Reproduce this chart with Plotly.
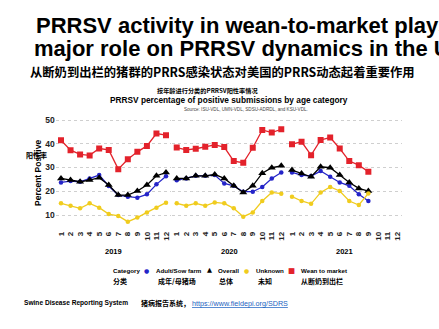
import plotly.graph_objects as go

W, H = 439, 329

months = [str(m) for m in range(1, 13)]
years = ["2019", "2020", "2021"]

adult = {
    "2019": [23.7, 24.3, 24.0, 25.4, 26.8, 22.2, 18.4, 17.7, 17.3, 18.7, 22.9, 26.3],
    "2020": [24.6, 25.4, 26.5, 26.5, 26.8, 23.3, 22.3, 19.8, 19.8, 21.8, 25.4, 27.9],
    "2021": [27.9, 26.8, 26.4, 28.5, 26.1, 23.7, 22.3, 18.7, 15.9],
}
overall = {
    "2019": [25.4, 24.7, 24.0, 24.7, 25.7, 22.6, 18.4, 18.4, 20.1, 22.6, 26.5, 27.9],
    "2020": [25.4, 25.4, 26.5, 26.5, 27.1, 25.4, 22.3, 19.5, 22.3, 27.6, 29.9, 30.7],
    "2021": [28.9, 27.5, 26.1, 30.3, 29.9, 26.8, 23.7, 21.2, 20.1],
}
unknown = {
    "2019": [14.9, 13.9, 12.8, 14.9, 13.1, 10.4, 9.6, 7.2, 8.9, 11.1, 13.1, 15.2],
    "2020": [14.9, 13.9, 14.9, 13.9, 15.3, 14.9, 12.8, 9.3, 11.1, 15.9, 19.5, 19.0],
    "2021": [17.7, 15.9, 14.7, 19.5, 21.8, 20.1, 15.9, 14.2, 19.1],
}
wean = {
    "2019": [41.5, 37.3, 35.5, 35.1, 38.0, 37.4, 29.3, 33.5, 36.6, 39.1, 44.3, 43.6],
    "2020": [38.4, 37.4, 37.9, 38.7, 39.5, 38.6, 32.7, 32.0, 38.3, 45.8, 44.7, 46.1],
    "2021": [39.8, 40.8, 35.2, 41.6, 42.6, 38.0, 32.7, 31.0, 28.2],
}

y_ticks = [10, 20, 30, 40, 50]

series = [
    ("Adult/Sow farm", adult, "#2424c8", "circle", 4.5),
    ("Overall", overall, "#000000", "triangle-up", 7),
    ("Unknown", unknown, "#f0cc1e", "circle", 4.5),
    ("Wean to market", wean, "#e3222b", "square", 6),
]

FONT = "Liberation Sans, Arial, Noto Sans CJK SC, sans-serif"
CJK = "Noto Sans CJK SC, sans-serif"


def px(x):
    return x / W


def py(y):
    return 1 - y / H


fig = go.Figure()

axes_names = ["x", "x2", "x3"]
for yr, ax in zip(years, axes_names):
    for name, d, col, sym, sz in series:
        vals = d[yr]
        fig.add_trace(go.Scatter(
            x=months[:len(vals)], y=vals, xaxis=ax, yaxis="y",
            mode="lines+markers", name=name, showlegend=False,
            line=dict(color=col, width=1.3),
            marker=dict(color=col, symbol=sym, size=sz),
        ))

panel_px = [(55.75, 171.25), (171.5, 286.5), (286.75, 402.25)]
xa_common = dict(
    type="category", categoryorder="array", categoryarray=months,
    range=[-0.55, 11.55], showgrid=False, zeroline=False, showline=False,
    ticks="", tickangle=-90, anchor="y",
    tickfont=dict(family=FONT, size=8, color="#222"),
    tickvals=months, ticktext=[f"<b>{m}</b>" for m in months],
)
layout_axes = {}
for i, (l, r) in enumerate(panel_px):
    key = "xaxis" if i == 0 else f"xaxis{i+1}"
    layout_axes[key] = dict(domain=[px(l), px(r)], **xa_common)

y_top, y_bottom = 115.25, 229.25
layout_axes["yaxis"] = dict(
    domain=[py(y_bottom), py(y_top)], range=[4, 52],
    tickvals=y_ticks, ticktext=[f"<b>{v}</b>" for v in y_ticks],
    tickfont=dict(family=FONT, size=8.5, color="#222"),
    showgrid=True, gridcolor="#cfcfcf", griddash="dot", gridwidth=1,
    zeroline=False, showline=False, ticks="", anchor="x",
)

ann = []


def text(x, y, s, size, color="#000", xanchor="left", family=FONT, angle=0):
    ann.append(dict(x=px(x), y=py(y), xref="paper", yref="paper", text=s,
                    showarrow=False, xanchor=xanchor, yanchor="middle",
                    textangle=angle, borderpad=0,
                    font=dict(family=family, size=size, color=color)))


# Slide titles (the reference slide crops them at the right edge)
text(35, 25.5, "<b>PRRSV activity in wean-to-market plays a</b>", 22)
text(33, 48, "<b>major role on PRRSV dynamics in the US</b>", 22)
text(29, 72, "<b>从断奶到出栏的猪群的PRRS感染状态对美国的PRRS动态起着重要作用</b>", 12.3, family=CJK)

# Chart titles
text(207, 90, "<b>按年龄进行分类的PRRSV阳性率情况</b>", 6.2, xanchor="center", family=CJK)
text(229, 100, "<b>PRRSV percentage of positive submissions by age category</b>", 8.3, xanchor="center")
text(246, 109.5, "Source: ISU-VDL, UMN-VDL, SDSU-ADRDL, and KSU-VDL.", 4.6, color="#444", xanchor="center")

# Y title
text(38, 173, "<b>Percent Positive</b>", 8.5, xanchor="center", angle=-90)
text(36.5, 155, "<b>阳性率</b>", 7, xanchor="center", family=CJK)

# Year labels
for yr, (l, r) in zip(years, panel_px):
    text((l + r) / 2, 251.5, f"<b>{yr}</b>", 7.5, xanchor="center")

# Legend
text(111.5, 270, "<b>Category</b>", 6.2)
leg_items = [
    (146.7, 155, "●", 6, "Adult/Sow farm", series[0][2]),
    (209.3, 217.3, "▲", 6.5, "Overall", series[1][2]),
    (246.7, 255, "●", 6, "Unknown", series[2][2]),
    (291, 300, "■", 7.5, "Wean to market", series[3][2]),
]
for mx, tx, glyph, gsz, lab, col in leg_items:
    text(mx, 270, glyph, gsz, color=col, xanchor="center", family="DejaVu Sans")
    text(tx, 270, f"<b>{lab}</b>", 6.2)

cn_labels = [(111.5, "分类"), (156.5, "成年/母猪场"), (218, "总体"), (256.5, "未知"), (300, "从断奶到出栏")]
for x, s in cn_labels:
    text(x, 281, f"<b>{s}</b>", 7, family=CJK)

# Footer
text(23, 303, "<b>Swine Disease Reporting System</b>", 6.6)
text(140, 303, "<b>猪病报告系统，</b>", 7, family=CJK)
text(190.5, 303, "<u>https://www.fieldepi.org/SDRS</u>", 7.2, color="#1a5fc0")

fig.update_layout(
    width=W, height=H, margin=dict(l=0, r=0, t=0, b=0),
    paper_bgcolor="white", plot_bgcolor="white",
    annotations=ann, showlegend=False,
    **layout_axes,
)

fig.write_html("out.html")
